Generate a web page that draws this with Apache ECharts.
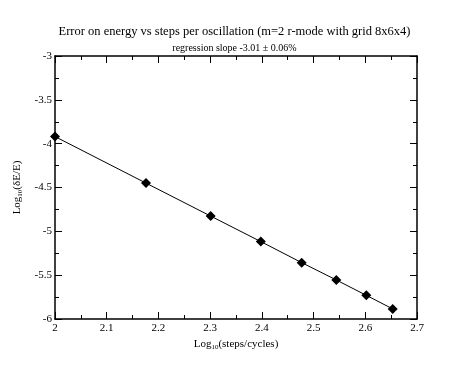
<!DOCTYPE html>
<html>
<head>
<meta charset="utf-8">
<script src="https://cdn.jsdelivr.net/npm/echarts@6/dist/echarts.min.js"></script>
<style>
  html, body { margin: 0; padding: 0; background: #fff; }
  #chart { width: 469px; height: 376px; }
</style>
</head>
<body>
<div id="chart"></div>
<script>
// log10 of steps per cycle, and log10 of relative energy error
const logSteps = [2.0, 2.176, 2.301, 2.398, 2.477, 2.544, 2.602, 2.653];
const logError = [-3.919, -4.45, -4.826, -5.117, -5.357, -5.555, -5.73, -5.885];

const xTicks = [2, 2.1, 2.2, 2.3, 2.4, 2.5, 2.6, 2.7];
const yTicks = [-6, -5.5, -5, -4.5, -4, -3.5, -3];

const font = 'Liberation Serif';
const chart = echarts.init(document.getElementById('chart'));

const subRich = {
  a: { fontFamily: font, fontSize: 11, color: '#000' },
  s: { fontFamily: font, fontSize: 7, color: '#000', padding: [6, 0, 0, 0] }
};

const axisCommon = {
  axisLine: { show: true, onZero: false, lineStyle: { color: '#000', width: 1.5 } },
  axisTick: { show: true, inside: true, length: 7, lineStyle: { color: '#000' } },
  minorTick: { show: true, splitNumber: 2, length: 4, lineStyle: { color: '#000' } },
  splitLine: { show: false }
};

const option = {
  animation: false,
  backgroundColor: '#fff',
  title: [
    {
      text: 'Error on energy vs steps per oscillation (m=2 r-mode with grid 8x6x4)',
      left: 'center',
      top: 20,
      textStyle: { fontFamily: font, fontSize: 12.5, fontWeight: 'normal', color: '#000' }
    },
    {
      text: 'regression slope -3.01 \u00b1 0.06%',
      left: 'center',
      top: 38,
      textStyle: { fontFamily: font, fontSize: 10, fontWeight: 'normal', color: '#000' }
    }
  ],
  grid: { left: 55, right: 52, top: 56, bottom: 57 },
  xAxis: [
    Object.assign({}, axisCommon, {
      type: 'value',
      min: 2, max: 2.7, interval: 0.1,
      name: '{a|Log}{s|10}{a|(steps/cycles)}',
      nameLocation: 'middle',
      nameGap: 18,
      nameTextStyle: { rich: subRich },
      axisLabel: {
        fontFamily: font, fontSize: 11, color: '#000', margin: 4,
        formatter: v => xTicks.find(t => Math.abs(t - v) < 1e-6) !== undefined ? String(+v.toFixed(1)) : ''
      }
    }),
    Object.assign({}, axisCommon, {
      type: 'value', position: 'top',
      min: 2, max: 2.7, interval: 0.1,
      axisLabel: { show: false }
    })
  ],
  yAxis: [
    Object.assign({}, axisCommon, {
      type: 'value',
      min: -6, max: -3, interval: 0.5,
      name: '{a|Log}{s|10}{a|(\u03b4E/E)}',
      nameLocation: 'middle',
      nameGap: 27,
      nameRotate: 90,
      nameTextStyle: { rich: subRich },
      axisLabel: {
        fontFamily: font, fontSize: 11, color: '#000', margin: 3,
        formatter: v => yTicks.find(t => Math.abs(t - v) < 1e-6) !== undefined ? String(+v.toFixed(1)) : ''
      }
    }),
    Object.assign({}, axisCommon, {
      type: 'value', position: 'right',
      min: -6, max: -3, interval: 0.5,
      axisLabel: { show: false }
    })
  ],
  series: [
    {
      type: 'line',
      data: logSteps.map((x, i) => [x, logError[i]]),
      symbol: 'diamond',
      symbolSize: 10,
      showSymbol: true,
      itemStyle: { color: '#000' },
      lineStyle: { color: '#000', width: 1 }
    }
  ]
};

chart.setOption(option);
</script>
</body>
</html>
